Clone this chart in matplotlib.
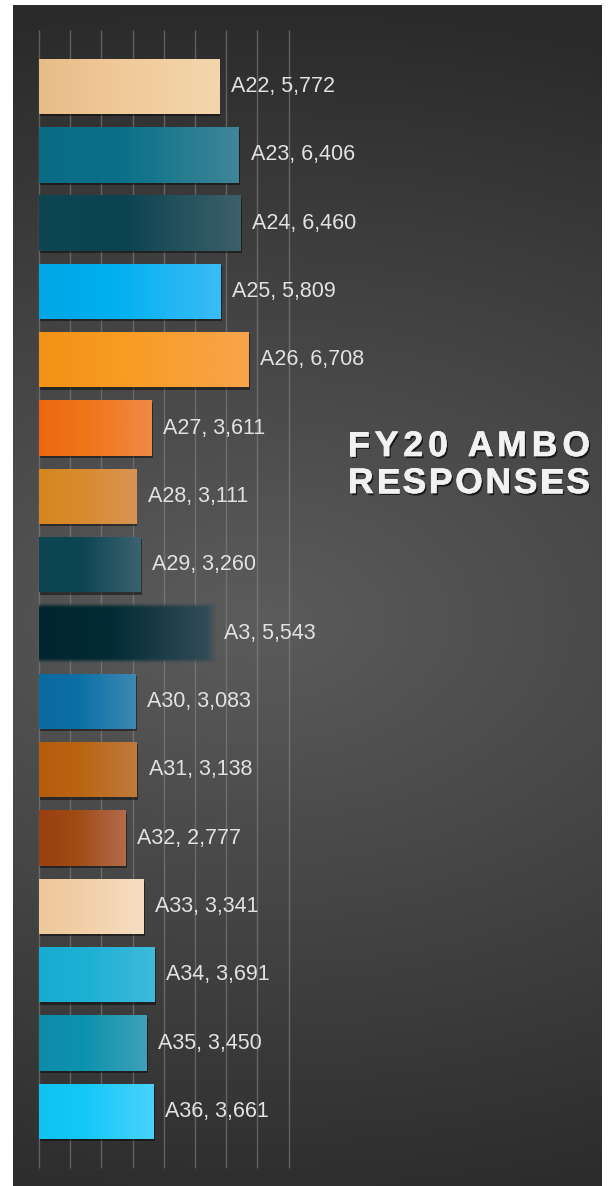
import numpy as np
import matplotlib
matplotlib.use("Agg")
import matplotlib.pyplot as plt
import matplotlib.patheffects as pe
from matplotlib.colors import LinearSegmentedColormap
from matplotlib.textpath import TextToPath
from matplotlib.font_manager import FontProperties

# ---------------- data ----------------
categories = ["A22", "A23", "A24", "A25", "A26", "A27", "A28", "A29",
              "A3", "A30", "A31", "A32", "A33", "A34", "A35", "A36"]
values = [5772, 6406, 6460, 5809, 6708, 3611, 3111, 3260,
          5543, 3083, 3138, 2777, 3341, 3691, 3450, 3661]
color_left = ["#E6BC88", "#0A6C84", "#0F4654", "#00A6E6", "#F29216", "#EC6810",
              "#D6861F", "#0E4654", "#01252E", "#0C6AA0", "#B45C0C", "#984010",
              "#EEC79C", "#18ACD0", "#0E8CA8", "#0EC2F2"]
color_mid = ["#F0C896", "#087088", "#0A4250", "#00B0F0", "#F89C22", "#F07418",
             "#DA8A2C", "#0C4452", "#012B34", "#0A70A6", "#BA6412", "#A04A14",
             "#F2CFA6", "#1CB0D4", "#0C92AE", "#14C8F8"]
color_right = ["#F4D6AE", "#3F8698", "#3C606A", "#3ABCF6", "#F8A44C", "#F08A46",
               "#D89454", "#3D6270", "#344C58", "#3E88B2", "#C07A3E", "#B46A4C",
               "#F6DEC4", "#3EBADA", "#3EA0B8", "#4AD2FF"]
title_lines = ["FY20 AMBO", "RESPONSES"]
grid_ticks = [0, 1000, 2000, 3000, 4000, 5000, 6000, 7000, 8000]
soft_bars = ["A3"]

# ---------------- figure ----------------
W, H, DPI = 610, 1186, 100
fig = plt.figure(figsize=(W / DPI, H / DPI), dpi=DPI, facecolor="white")

# background panel with radial gradient
px0, px1, py0, py1 = 13, 602, 5, 1186
ax_bg = fig.add_axes([px0 / W, 0, (px1 - px0) / W, (py1 - py0) / H])
ax_bg.set_axis_off()
xx, yy = np.meshgrid(np.arange(px0, px1), np.arange(py0, py1))
cx, cy, rx, ry = 250, 620, 1000, 620
r = np.clip(np.sqrt(((xx - cx) / rx) ** 2 + ((yy - cy) / ry) ** 2), 0, 1)
light, dark = 92 / 255, 42 / 255
g = light + (dark - light) * r
ax_bg.imshow(np.dstack([g, g, g]), aspect="auto", interpolation="bilinear")

# main axes, full figure
ax = fig.add_axes([0, 0, 1, 1])
ax.set_facecolor("none")
ax.set_axis_off()
px_per_k = 31.19
x0_px = 39
y0_px, pitch = 86.5, 68.33
xlim = (-x0_px / px_per_k * 1000, (W - x0_px) / px_per_k * 1000)
ylim = ((H - y0_px) / pitch, -y0_px / pitch)

# gridlines
ax.vlines(grid_ticks, (30 - y0_px) / pitch, (1168 - y0_px) / pitch,
          colors="#8a8a8a", linewidth=1.0, alpha=0.55, zorder=1)

bh = 0.81
grad = np.linspace(0, 1, 256).reshape(1, -1)
for i, (cat, v) in enumerate(zip(categories, values)):
    cmap = LinearSegmentedColormap.from_list(
        f"g{i}", [(0, color_left[i]), (0.4, color_mid[i]), (1, color_right[i])])
    if cat in soft_bars:
        ax.barh(i, v, height=bh, color="none", linewidth=0, zorder=2)
        # soft-edged bar image (sharp left edge, soft top/bottom/right)
        padr = 7 / px_per_k * 1000
        pady = 3 / pitch
        nx, ny = 400, 100
        xs = np.linspace(0, v + padr, nx)
        ys = np.linspace(-bh / 2 - pady, bh / 2 + pady, ny)
        X, Y = np.meshgrid(xs, ys)
        t = np.clip(X / v, 0, 1)
        rgb = cmap(t)[..., :3]
        dx = (v - X) / padr
        dy = (bh / 2 - np.abs(Y)) / pady
        a_x = np.clip(0.5 + dx * 0.5, 0, 1)
        a_y = np.clip(0.5 + dy * 0.5, 0, 1)
        alpha = np.minimum(a_x, a_y)
        alpha = alpha * alpha * (3 - 2 * alpha)
        img = np.dstack([rgb, alpha])
        ax.imshow(img, extent=[0, v + padr, i + bh / 2 + pady, i - bh / 2 - pady],
                  aspect="auto", zorder=3, interpolation="bilinear")
    else:
        bar = ax.barh(i, v, height=bh, color=color_mid[i], zorder=2,
                      linewidth=0)[0]
        bar.set_path_effects([pe.SimplePatchShadow(offset=(1.0, -1.5),
                                                   shadow_rgbFace="black",
                                                   alpha=0.45),
                              pe.Normal()])
        im = ax.imshow(grad, extent=[0, v, i + bh / 2, i - bh / 2], aspect="auto",
                       cmap=cmap, zorder=3, interpolation="bilinear")
        im.set_clip_path(bar)
    ax.annotate(f"{cat}, {v:,}", xy=(v, i), xytext=(8.5, 0),
                textcoords="offset points", va="center", ha="left",
                fontsize=15.5, color="#e2e2e2", family="Liberation Sans",
                zorder=4)

ax.set_xlim(*xlim)
ax.set_ylim(*ylim)

# title with letter spacing
fp = FontProperties(family="Liberation Sans", weight="bold", size=25.5)
t2p = TextToPath()
def width_px(s):
    if not s:
        return 0.0
    w, h, d = t2p.get_text_width_height_descent(s, fp, ismath=False)
    return w * DPI / 72.0

title_cx = 469
title_ys = [443, 480]
target_w = 242
effects = [pe.SimplePatchShadow(offset=(1.2, -1.6), shadow_rgbFace="black", alpha=0.65),
           pe.withStroke(linewidth=0.5, foreground="#f2f2f2")]
for line, ycen in zip(title_lines, title_ys):
    nat = width_px(line)
    track = (target_w - nat) / (len(line) - 1)
    left = title_cx - target_w / 2
    for k, ch in enumerate(line):
        if ch == " ":
            continue
        xk = left + width_px(line[:k]) + k * track
        fig.text(xk / W, 1 - ycen / H, ch, fontproperties=fp, color="#f2f2f2",
                 ha="left", va="center_baseline", path_effects=effects)

fig.savefig("out.png", dpi=DPI, facecolor="white")
